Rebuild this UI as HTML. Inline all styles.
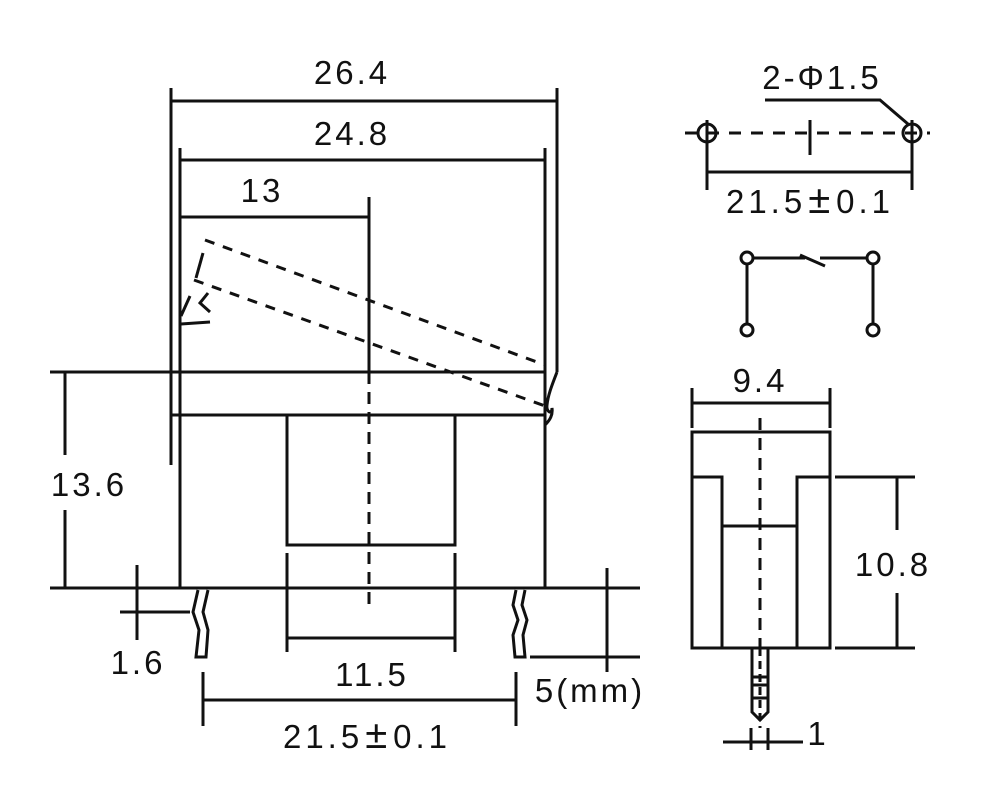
<!DOCTYPE html>
<html><head><meta charset="utf-8"><style>
html,body{margin:0;padding:0;background:#fff;}
svg{display:block}
text{font-family:"Liberation Sans",sans-serif;font-size:33px;fill:#111;letter-spacing:3px;text-anchor:middle}
</style></head><body>
<svg width="1000" height="797" viewBox="0 0 1000 797" xmlns="http://www.w3.org/2000/svg">
<g stroke="#111" stroke-width="3" fill="none" stroke-linecap="butt">
<line x1="171" y1="88" x2="171" y2="465"/>
<line x1="557" y1="88" x2="557" y2="372"/>
<line x1="171" y1="101" x2="557" y2="101"/>
<line x1="180" y1="148" x2="180" y2="588"/>
<line x1="545" y1="148" x2="545" y2="588"/>
<line x1="180" y1="160" x2="545" y2="160"/>
<line x1="369" y1="197" x2="369" y2="372"/>
<line x1="180" y1="217" x2="369" y2="217"/>
<line x1="50" y1="372" x2="545" y2="372"/>
<line x1="171" y1="415" x2="545" y2="415"/>
<line x1="50" y1="588" x2="640" y2="588"/>
<polyline points="287,415 287,545 455,545 455,415"/>
<line x1="287" y1="553" x2="287" y2="652"/>
<line x1="455" y1="553" x2="455" y2="652"/>
<line x1="287" y1="638" x2="455" y2="638"/>
<line x1="369" y1="372" x2="369" y2="605" stroke-dasharray="12,8"/>
<line x1="205" y1="240" x2="545" y2="365" stroke-dasharray="10,9"/>
<line x1="194" y1="280" x2="548" y2="407" stroke-dasharray="10,9"/>
<line x1="203" y1="253" x2="196" y2="278" />
<polyline points="208,293 200,303 210,312"/>
<line x1="190" y1="296" x2="181" y2="316"/>
<line x1="181" y1="324" x2="210" y2="322"/>
<path d="M557,372 C552,385 548,395 547,405 C546,412 552,415 552,408 C553,415 550,420 545,425"/>
<line x1="65" y1="372" x2="65" y2="455"/>
<line x1="65" y1="510" x2="65" y2="588"/>
<path d="M198,590 L193,612 L199,630 L196,657 L206,657 L208,630 L203,612 L208,590"/>
<path d="M516,590 L513,605 L518,620 L513,635 L515,657 L525,657 L523,635 L527,620 L522,605 L525,590"/>
<line x1="137" y1="565" x2="137" y2="640"/>
<line x1="120" y1="612" x2="190" y2="612"/>
<line x1="203" y1="672" x2="203" y2="726"/>
<line x1="516" y1="672" x2="516" y2="726"/>
<line x1="203" y1="700" x2="516" y2="700"/>
<line x1="607" y1="568" x2="607" y2="672"/>
<line x1="530" y1="657" x2="640" y2="657"/>
<rect x="692" y="432" width="138" height="216"/>
<polyline points="692,477 722,477 722,648"/>
<polyline points="830,477 797,477 797,648"/>
<line x1="722" y1="526" x2="797" y2="526"/>
<line x1="760" y1="418" x2="760" y2="648" stroke-dasharray="12,8"/>
<line x1="692" y1="388" x2="692" y2="428"/>
<line x1="830" y1="388" x2="830" y2="428"/>
<line x1="692" y1="403" x2="830" y2="403"/>
<line x1="835" y1="477" x2="915" y2="477"/>
<line x1="835" y1="648" x2="915" y2="648"/>
<line x1="897" y1="477" x2="897" y2="530"/>
<line x1="897" y1="593" x2="897" y2="648"/>
<path d="M752,648 L752,712 L760,720 L768,712 L768,648"/>
<line x1="752" y1="677" x2="768" y2="677"/>
<line x1="752" y1="685" x2="768" y2="685"/>
<line x1="752" y1="698" x2="768" y2="698"/>
<line x1="760" y1="648" x2="760" y2="728" stroke-dasharray="8,5"/>
<line x1="723" y1="742" x2="803" y2="742"/>
<line x1="751" y1="728" x2="751" y2="750"/>
<line x1="768" y1="728" x2="768" y2="750"/>
<circle cx="707" cy="133" r="9"/>
<circle cx="912" cy="133" r="9"/>
<line x1="685" y1="133" x2="930" y2="133" stroke-dasharray="12,10"/>
<line x1="707" y1="120" x2="707" y2="190"/>
<line x1="912" y1="120" x2="912" y2="190"/>
<line x1="810" y1="120" x2="810" y2="155"/>
<polyline points="765,100 880,100 908,124"/>
<line x1="708" y1="172" x2="912" y2="172"/>
<line x1="747" y1="264" x2="747" y2="324"/>
<line x1="873" y1="264" x2="873" y2="324"/>
<line x1="753" y1="258" x2="805" y2="258"/>
<line x1="800" y1="255" x2="825" y2="266"/>
<line x1="820" y1="258" x2="867" y2="258"/>
<circle cx="747" cy="258" r="6" fill="#fff"/>
<circle cx="873" cy="258" r="6" fill="#fff"/>
<circle cx="747" cy="330" r="6" fill="#fff"/>
<circle cx="873" cy="330" r="6" fill="#fff"/>
</g>
<text x="352" y="84">26.4</text>
<text x="352" y="145">24.8</text>
<text x="262" y="202">13</text>
<text x="89" y="496">13.6</text>
<text x="138" y="674">1.6</text>
<text x="372" y="686">11.5</text>
<text x="367" y="748" style="letter-spacing:4px">21.5<tspan font-size="40" dx="2">±</tspan><tspan dx="2">0.1</tspan></text>
<text x="590" y="702">5(mm)</text>
<text x="760" y="392">9.4</text>
<text x="893" y="576">10.8</text>
<text x="818" y="745">1</text>
<text x="822" y="89">2-Φ1.5</text>
<text x="810" y="213" style="letter-spacing:4px">21.5<tspan font-size="40" dx="2">±</tspan><tspan dx="2">0.1</tspan></text>
</svg>
</body></html>
